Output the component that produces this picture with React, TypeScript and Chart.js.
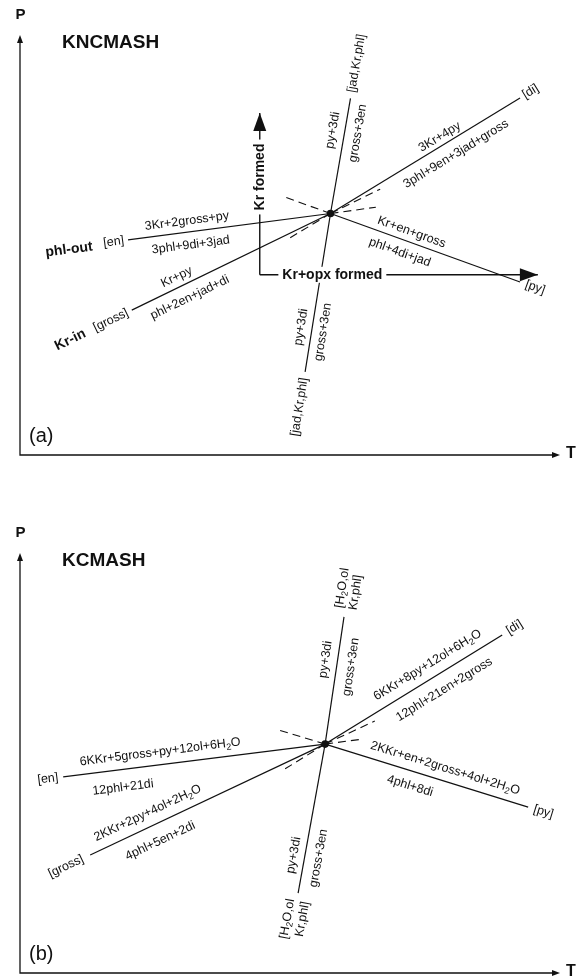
import React, { useEffect, useRef } from 'react';
import { Chart, registerables } from 'chart.js';

Chart.register(...registerables);

// ================= Panel (a) : KNCMASH =================
const A_TITLE = 'KNCMASH';
const A_LETTER = '(a)';
const A_INV_T = 57.5;
const A_INV_P = 57.5;
const A_ABSENT = ['[jad,Kr,phl]', '[jad,Kr,phl]', '[di]', '[py]', '[en]', '[gross]'];
const A_END_T = [61.2, 52.8, 92.6, 92.6, 20.0, 20.7];
const A_END_P = [84.9, 19.8, 85.0, 41.2, 51.2, 34.5];
const A_HIGH_SIDE = ['py+3di', 'py+3di', '3Kr+4py', 'Kr+en+gross', '3Kr+2gross+py', 'Kr+py'];
const A_LOW_SIDE = ['gross+3en', 'gross+3en', '3phl+9en+3jad+gross', 'phl+4di+jad', '3phl+9di+3jad', 'phl+2en+jad+di'];
const A_FIELD = ['', '', '', '', 'phl-out', 'Kr-in'];
const A_META_T = [49.1, 66.7, 65.9, 49.6];
const A_META_P = [61.4, 63.3, 59.0, 51.4];
const A_ARROW_TEXT = ['Kr formed', 'Kr+opx formed'];
const A_ARROW_FROM_T = [44.4, 44.4];
const A_ARROW_FROM_P = [42.9, 42.9];
const A_ARROW_TO_T = [44.4, 95.9];
const A_ARROW_TO_P = [81.4, 42.9];

// ================= Panel (b) : KCMASH =================
const B_TITLE = 'KCMASH';
const B_LETTER = '(b)';
const B_INV_T = 56.5;
const B_INV_P = 54.5;
const B_ABSENT = ['[H_2O,ol\nKr,phl]', '[H_2O,ol\nKr,phl]', '[di]', '[py]', '[en]', '[gross]'];
const B_END_T = [60.0, 51.5, 89.3, 94.1, 8.0, 13.0];
const B_END_P = [84.8, 19.0, 80.5, 39.5, 46.7, 28.1];
const B_HIGH_SIDE = ['py+3di', 'py+3di', '6KKr+8py+12ol+6H_2O', '2KKr+en+2gross+4ol+2H_2O', '6KKr+5gross+py+12ol+6H_2O', '2KKr+2py+4ol+2H_2O'];
const B_LOW_SIDE = ['gross+3en', 'gross+3en', '12phl+21en+2gross', '4phl+8di', '12phl+21di', '4phl+5en+2di'];
const B_FIELD = ['', '', '', '', '', ''];
const B_META_T = [47.8, 65.7, 63.5, 48.7];
const B_META_P = [57.9, 60.0, 55.7, 48.3];

// ================= layout (label placement along the lines) =================
const A_LAYOUT = [
  { hf: 0.706, ho: 11.9, lf: 0.718, lo: -13.2, gap: 6 },
  { hf: 0.728, ho: 11.1, lf: 0.737, lo: -11.4, gap: 6 },
  { hf: 0.6, ho: 8.5, lf: 0.622, lo: -14.5, gap: 4 },
  { hf: 0.41, ho: 10, lf: 0.389, lo: -13, gap: 6 },
  { hf: 0.702, ho: 11.1, lf: 0.698, lo: -13.2, gap: 4, fg: 36, fo: -2 },
  { hf: 0.752, ho: 10.0, lf: 0.739, lo: -14.1, gap: 4.5, fg: 52, fo: 0 },
];
const A_ARROW_POS = [0.605, 0.261];

const B_LAYOUT = [
  { hf: 0.651, ho: 12.0, lf: 0.623, lo: -14.3, gap: 8, seps: [6, -8] },
  { hf: 0.758, ho: 11.1, lf: 0.748, lo: -14.0, gap: 7, seps: [6, -9] },
  { hf: 0.619, ho: 13.5, lf: 0.625, lo: -16, gap: 6 },
  { hf: 0.573, ho: 12.6, lf: 0.44, lo: -14.9, gap: 6 },
  { hf: 0.624, ho: 12.7, lf: 0.78, lo: -18, gap: 5 },
  { hf: 0.731, ho: 13.4, lf: 0.733, lo: -17.2, gap: 8 },
];

const INK = '#111111';
const FONT = '"Liberation Sans", Arial, Helvetica, sans-serif';
const LABEL_SIZE = 12.5;

type Part = { t: string; sub: boolean };
function splitRich(text: string): Part[] {
  const out: Part[] = [];
  const re = /_(\d)/g;
  let last = 0;
  let m: RegExpExecArray | null;
  while ((m = re.exec(text))) {
    if (m.index > last) out.push({ t: text.slice(last, m.index), sub: false });
    out.push({ t: m[1], sub: true });
    last = re.lastIndex;
  }
  if (last < text.length) out.push({ t: text.slice(last), sub: false });
  return out;
}

function drawRich(ctx: CanvasRenderingContext2D, text: string, x: number, y: number, ang: number, align: string, size: number, weight: string) {
  const parts = splitRich(text);
  const fontOf = (p: Part) => `${weight} ${p.sub ? size * 0.72 : size}px ${FONT}`;
  let w = 0;
  const ws = parts.map((p) => {
    ctx.font = fontOf(p);
    const v = ctx.measureText(p.t).width;
    w += v;
    return v;
  });
  ctx.save();
  ctx.translate(x, y);
  ctx.rotate(ang);
  ctx.textAlign = 'left';
  ctx.textBaseline = 'middle';
  let cx = align === 'center' ? -w / 2 : align === 'right' ? -w : 0;
  parts.forEach((p, i) => {
    ctx.font = fontOf(p);
    ctx.fillText(p.t, cx, p.sub ? size * 0.3 : 0);
    cx += ws[i];
  });
  ctx.restore();
  return w;
}

function arrowHead(ctx: CanvasRenderingContext2D, x: number, y: number, ang: number, len: number, half: number) {
  const c = Math.cos(ang), s = Math.sin(ang);
  ctx.beginPath();
  ctx.moveTo(x, y);
  ctx.lineTo(x - len * c - half * s, y - len * s + half * c);
  ctx.lineTo(x - len * c + half * s, y - len * s - half * c);
  ctx.closePath();
  ctx.fill();
}

type Spec = {
  title: string; letter: string;
  invT: number; invP: number;
  endT: number[]; endP: number[];
  absent: string[]; high: string[]; low: string[]; field: string[];
  metaT: number[]; metaP: number[];
  layout: any[];
  arrowText: string[]; arrowFromT: number[]; arrowFromP: number[]; arrowToT: number[]; arrowToP: number[]; arrowPos: number[];
  padTop: number; padBottom: number; height: number;
};

const A_SPEC: Spec = {
  title: A_TITLE, letter: A_LETTER, invT: A_INV_T, invP: A_INV_P,
  endT: A_END_T, endP: A_END_P, absent: A_ABSENT, high: A_HIGH_SIDE, low: A_LOW_SIDE, field: A_FIELD,
  metaT: A_META_T, metaP: A_META_P, layout: A_LAYOUT,
  arrowText: A_ARROW_TEXT, arrowFromT: A_ARROW_FROM_T, arrowFromP: A_ARROW_FROM_P, arrowToT: A_ARROW_TO_T, arrowToP: A_ARROW_TO_P, arrowPos: A_ARROW_POS,
  padTop: 35, padBottom: 34, height: 489,
};
const B_SPEC: Spec = {
  title: B_TITLE, letter: B_LETTER, invT: B_INV_T, invP: B_INV_P,
  endT: B_END_T, endP: B_END_P, absent: B_ABSENT, high: B_HIGH_SIDE, low: B_LOW_SIDE, field: B_FIELD,
  metaT: B_META_T, metaP: B_META_P, layout: B_LAYOUT,
  arrowText: [], arrowFromT: [], arrowFromP: [], arrowToT: [], arrowToP: [], arrowPos: [],
  padTop: 64, padBottom: 6, height: 490,
};

function buildConfig(p: Spec): any {
  const datasets: any[] = [];
  p.endT.forEach((t, i) => {
    datasets.push({
      data: [{ x: p.invT, y: p.invP }, { x: t, y: p.endP[i] }],
      showLine: true, borderColor: INK, borderWidth: 1.2, pointRadius: 0, clip: false,
    });
  });
  p.metaT.forEach((t, i) => {
    datasets.push({
      data: [{ x: p.invT, y: p.invP }, { x: t, y: p.metaP[i] }],
      showLine: true, borderColor: INK, borderWidth: 1.1, borderDash: [8, 5], pointRadius: 0, clip: false,
    });
  });
  p.arrowText.forEach((_, i) => {
    datasets.push({
      data: [{ x: p.arrowFromT[i], y: p.arrowFromP[i] }, { x: p.arrowToT[i], y: p.arrowToP[i] }],
      showLine: true, borderColor: INK, borderWidth: 1.4, pointRadius: 0, clip: false,
    });
  });
  datasets.push({
    data: [{ x: p.invT, y: p.invP }],
    showLine: false, pointRadius: 3.8, backgroundColor: INK, borderWidth: 0, clip: false,
  });

  const plugin = {
    id: 'phaseDiagram',
    afterDatasetsDraw(chart: any) {
      const ctx: CanvasRenderingContext2D = chart.ctx;
      const xs = chart.scales.x, ys = chart.scales.y, ca = chart.chartArea;
      const px = (v: number) => xs.getPixelForValue(v);
      const py = (v: number) => ys.getPixelForValue(v);
      ctx.save();
      ctx.fillStyle = INK;
      ctx.strokeStyle = INK;
      // axes
      ctx.lineWidth = 1.3;
      ctx.beginPath();
      ctx.moveTo(ca.left, ca.top + 4);
      ctx.lineTo(ca.left, ca.bottom);
      ctx.lineTo(ca.right - 4, ca.bottom);
      ctx.stroke();
      arrowHead(ctx, ca.left, ca.top, -Math.PI / 2, 8, 3);
      arrowHead(ctx, ca.right, ca.bottom, 0, 8, 3);
      drawRich(ctx, 'P', ca.left + 0.5, ca.top - 20, 0, 'center', 15, 'bold');
      drawRich(ctx, 'T', ca.right + 6, ca.bottom - 1, 0, 'left', 16, 'bold');
      drawRich(ctx, p.title, ca.left + 42, ca.top + 7.5, 0, 'left', 19, 'bold');
      drawRich(ctx, p.letter, ca.left + 9, ca.bottom - 19, 0, 'left', 20, 'normal');

      // reaction labels
      const ix = px(p.invT), iy = py(p.invP);
      p.endT.forEach((t, i) => {
        const ex = px(t), ey = py(p.endP[i]);
        const dx = ex - ix, dy = ey - iy;
        const forward = dx >= 0;
        const L = Math.hypot(dx, dy);
        let bx = dx / L, by = dy / L;
        if (!forward) { bx = -bx; by = -by; }
        const ang = Math.atan2(by, bx);
        const ux = by, uy = -bx;
        const lay = p.layout[i];
        const at = (f: number, o: number) => [ix + f * dx + o * ux, iy + f * dy + o * uy];
        let q = at(lay.hf, lay.ho);
        drawRich(ctx, p.high[i], q[0], q[1], ang, 'center', LABEL_SIZE, 'normal');
        q = at(lay.lf, lay.lo);
        drawRich(ctx, p.low[i], q[0], q[1], ang, 'center', LABEL_SIZE, 'normal');
        const sgn = forward ? 1 : -1;
        const lines = p.absent[i].split('\n');
        const seps = lay.seps || [0];
        lines.forEach((ln: string, k: number) => {
          const o = seps[k] || 0;
          const x0 = ex + sgn * lay.gap * bx + o * ux;
          const y0 = ey + sgn * lay.gap * by + o * uy;
          drawRich(ctx, ln, x0, y0, ang, forward ? 'left' : 'right', LABEL_SIZE, 'normal');
        });
        if (p.field[i]) {
          const x0 = ex + sgn * lay.fg * bx + lay.fo * ux;
          const y0 = ey + sgn * lay.fg * by + lay.fo * uy;
          drawRich(ctx, p.field[i], x0, y0, ang, forward ? 'left' : 'right', 14, 'bold');
        }
      });

      // reaction-progress arrows
      p.arrowText.forEach((txt, i) => {
        const fx = px(p.arrowFromT[i]), fy = py(p.arrowFromP[i]);
        const tx = px(p.arrowToT[i]), ty = py(p.arrowToP[i]);
        const ang = Math.atan2(ty - fy, tx - fx);
        arrowHead(ctx, tx, ty, ang, 18, 6.5);
        const f = p.arrowPos[i];
        const cx = fx + f * (tx - fx), cy = fy + f * (ty - fy);
        ctx.font = `bold 14px ${FONT}`;
        const w = ctx.measureText(txt).width;
        ctx.save();
        ctx.translate(cx, cy);
        ctx.rotate(ang);
        ctx.fillStyle = '#ffffff';
        ctx.fillRect(-w / 2 - 4, -8, w + 8, 16);
        ctx.restore();
        ctx.fillStyle = INK;
        drawRich(ctx, txt, cx, cy, ang, 'center', 14, 'bold');
      });
      ctx.restore();
    },
  };

  return {
    type: 'scatter',
    data: { datasets },
    options: {
      animation: false,
      responsive: false,
      maintainAspectRatio: false,
      devicePixelRatio: 1,
      events: [],
      layout: { padding: { left: 20, right: 22, top: p.padTop, bottom: p.padBottom } },
      elements: { line: { tension: 0 } },
      scales: {
        x: { type: 'linear', min: 0, max: 100, display: false },
        y: { type: 'linear', min: 0, max: 100, display: false },
      },
      plugins: { legend: { display: false }, tooltip: { enabled: false }, title: { display: false } },
    },
    plugins: [plugin],
  };
}

function Panel({ spec }: { spec: Spec }) {
  const ref = useRef<HTMLCanvasElement>(null);
  useEffect(() => {
    const chart = new Chart(ref.current as HTMLCanvasElement, buildConfig(spec));
    return () => chart.destroy();
  }, [spec]);
  return (
    <canvas
      ref={ref}
      width={582}
      height={spec.height}
      style={{ display: 'block', width: 582, height: spec.height }}
    />
  );
}

export default function App() {
  return (
    <div style={{ position: 'absolute', left: 0, top: 0, width: 582, height: 979, background: '#ffffff' }}>
      <Panel spec={A_SPEC} />
      <Panel spec={B_SPEC} />
    </div>
  );
}
